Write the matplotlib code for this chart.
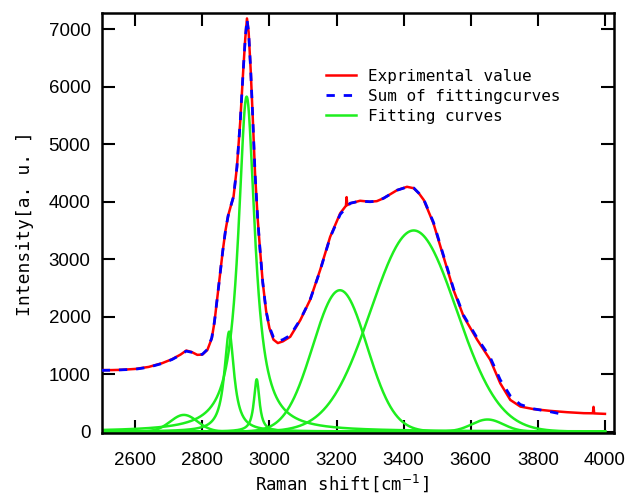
import numpy as np
import matplotlib
matplotlib.use("Agg")
import matplotlib.pyplot as plt

exp_x = [2500, 2530, 2560, 2600, 2640, 2680, 2710, 2735, 2752, 2768, 2785, 2800,
         2815, 2828, 2836, 2845, 2853, 2861, 2869, 2877, 2885, 2893, 2903, 2913,
         2922, 2928, 2933, 2938, 2944, 2950, 2957, 2965, 2972, 2980, 2990, 3000,
         3012, 3025, 3040, 3062, 3092, 3121, 3151, 3181, 3211, 3228, 3230, 3232,
         3241, 3270, 3300, 3320, 3340, 3380, 3410, 3430, 3445, 3460, 3489, 3519,
         3549, 3579, 3619, 3658, 3688, 3718, 3748, 3788, 3837, 3887, 3937, 3964,
         3966, 3968, 4000]
exp_y = [1070, 1070, 1075, 1090, 1125, 1190, 1260, 1340, 1410, 1385, 1335, 1340,
         1420, 1620, 1900, 2350, 2750, 3150, 3500, 3760, 3930, 4090, 4600, 5400,
         6300, 6850, 7190, 6950, 6300, 5500, 4500, 3700, 3160, 2600, 2100, 1800,
         1600, 1540, 1570, 1650, 1940, 2290, 2810, 3390, 3800, 3930, 4080, 3940,
         3972, 4017, 4000, 4010, 4060, 4200, 4260, 4235, 4150, 4030, 3620, 3040,
         2460, 2000, 1600, 1250, 840, 550, 435, 390, 360, 337, 320, 318,
         430, 316, 308]

# sum of the fitted curves
sum_x = [2500, 2530, 2560, 2600, 2640, 2680, 2710, 2735, 2752, 2768, 2785, 2800,
         2815, 2828, 2836, 2845, 2853, 2861, 2869, 2877, 2885, 2893, 2903, 2913,
         2922, 2928, 2933, 2938, 2944, 2950, 2957, 2965, 2972, 2980, 2990, 3000,
         3012, 3025, 3040, 3062, 3092, 3121, 3151, 3181, 3211, 3241, 3270, 3300,
         3320, 3340, 3380, 3410, 3430, 3445, 3460, 3489, 3519, 3549, 3579, 3619,
         3658, 3688, 3718, 3748, 3788, 3837, 3875]
sum_y = [1065, 1068, 1075, 1085, 1120, 1185, 1255, 1335, 1400, 1380, 1335, 1345,
         1430, 1630, 1910, 2350, 2750, 3150, 3500, 3760, 3930, 4090, 4600, 5400,
         6300, 6850, 7180, 6950, 6300, 5500, 4500, 3700, 3160, 2600, 2100, 1820,
         1640, 1570, 1600, 1675, 1950, 2290, 2800, 3380, 3780, 3975, 4010, 4000,
         4010, 4060, 4200, 4255, 4240, 4150, 4040, 3640, 3060, 2480, 2020, 1630,
         1290, 900, 620, 470, 395, 345, 300]

# fitting curves: centre, height, FWHM, profile
peak_center = [2745, 2880, 2932, 2962, 3210, 3430, 3650]
peak_height = [290, 1740, 5830, 910, 2460, 3500, 210]
peak_fwhm = [95, 35, 60, 20, 190, 300, 110]
peak_shape = ["g", "l", "l", "l", "g", "g", "g"]

mono = "DejaVu Sans Mono"

fig = plt.figure(figsize=(6.29, 5), dpi=100)
ax = fig.add_axes([101.7 / 629, 67 / 500, 512.3 / 629, 420.3 / 500])

xs = np.linspace(2500, 4000, 1501)

ax.plot(exp_x, exp_y, color="#ff0000", lw=1.8, label="Exprimental value", zorder=3)
ax.plot(sum_x, sum_y, color="#0000ff", lw=2.0, dashes=(3, 3.2),
        label="Sum of fittingcurves", zorder=4)
for i in range(len(peak_center)):
    c, h, w = peak_center[i], peak_height[i], peak_fwhm[i]
    if peak_shape[i] == "l":
        ys = h * (w / 2) ** 2 / ((xs - c) ** 2 + (w / 2) ** 2)
    else:
        s = w / 2.3548
        ys = h * np.exp(-0.5 * ((xs - c) / s) ** 2)
    ax.plot(xs, ys, color="#1eee1e", lw=1.8, zorder=2,
            label="Fitting curves" if i == 0 else None)

ax.set_xlim(2500, 4027)
ax.set_ylim(-25, 7290)
ax.set_xticks(range(2600, 4001, 200))
ax.set_yticks(range(0, 7001, 1000))

ax.tick_params(direction="in", length=9.5, width=1.5, top=True, right=True,
               labelsize=13.5, colors="black")
ax.tick_params(axis="x", pad=14)
ax.tick_params(axis="y", pad=8)
for lab in ax.get_xticklabels() + ax.get_yticklabels():
    lab.set_family("Liberation Sans")
for sp in ax.spines.values():
    sp.set_linewidth(1.8)

fig.text(342 / 629, 1 - 483 / 500, "Raman shift[cm$^{-1}$]", family=mono,
         fontsize=12.5, ha="center", va="center")
fig.text(25 / 629, 1 - 224 / 500, "Intensity[a. u. ]", family=mono,
         fontsize=13, ha="center", va="center", rotation=90)

ax.legend(loc="upper left", bbox_to_anchor=(326 / 629, 1 - 69 / 500),
          bbox_transform=fig.transFigure, frameon=False,
          prop={"family": mono, "size": 11.5}, handlelength=1.9,
          handletextpad=0.7, labelspacing=0.3, borderpad=0, borderaxespad=0)

fig.savefig("out.png", dpi=100)
